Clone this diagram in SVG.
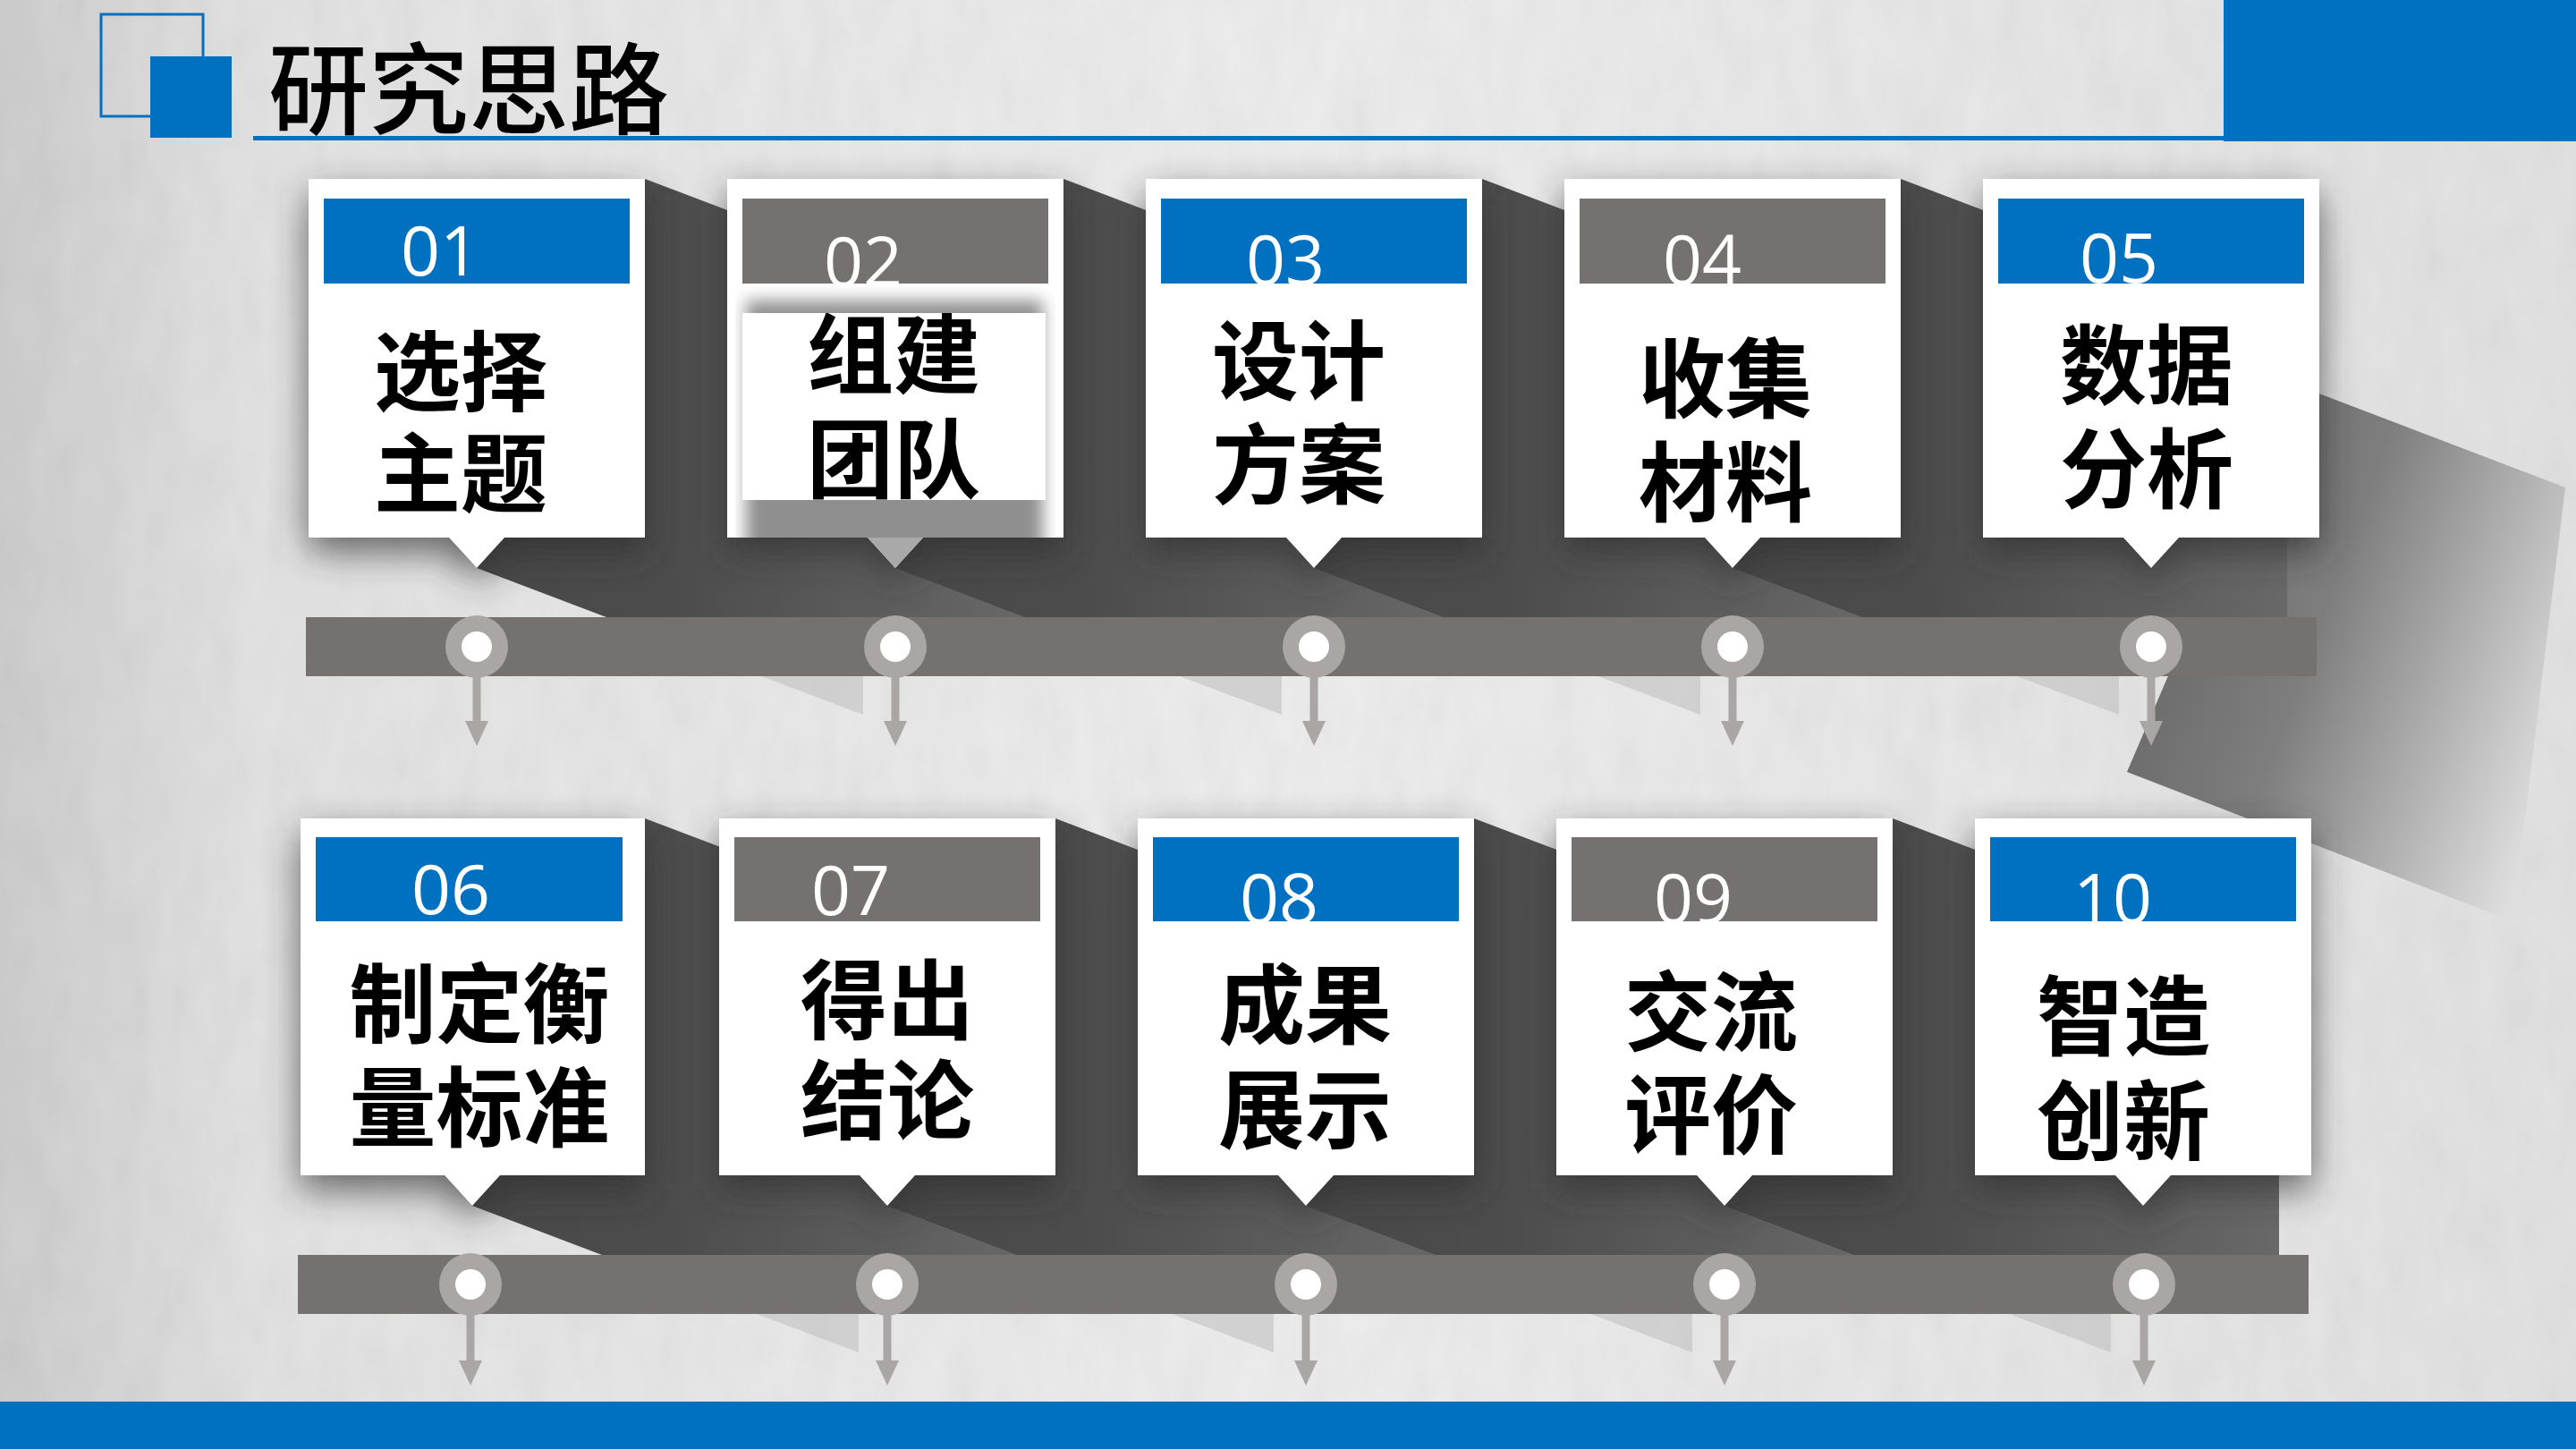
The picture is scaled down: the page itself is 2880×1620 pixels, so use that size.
<svg xmlns="http://www.w3.org/2000/svg" width="2880" height="1620" viewBox="0 0 2880 1620">
<style>
.card{fill:#ffffff}
.hb{fill:#0070C0}
.hg{fill:#767171}
.num{font-family:'Open Sans','Liberation Sans',sans-serif;font-size:77px;fill:#ffffff;text-anchor:middle}
.lbl{font-family:'Noto Sans CJK SC',sans-serif;font-weight:700;font-size:97px;fill:#000000;text-anchor:middle}
.bar{fill:#757171}
.ring{fill:#aaa6a6}
.hole{fill:#ffffff}
.arr{stroke:#aaa6a6;stroke-width:9;fill:none}
.ls{fill:url(#lsg)}
.lsb{fill:#bdbdbd;opacity:0.55}
.soft{fill:#2e2e2e;opacity:0.7;filter:url(#blur)}
</style>
<defs>
<linearGradient id="bg" x1="0" y1="0" x2="1" y2="0">
<stop offset="0" stop-color="#cbcbcb"/>
<stop offset="0.1" stop-color="#e2e2e2"/>
<stop offset="0.5" stop-color="#ededed"/>
<stop offset="1" stop-color="#e1e1e1"/>
</linearGradient>
<linearGradient id="lsg" x1="0" y1="0" x2="1" y2="0">
<stop offset="0" stop-color="#444444"/>
<stop offset="0.5" stop-color="#4c4c4c"/>
<stop offset="1" stop-color="#686868"/>
</linearGradient>
<linearGradient id="tilt" gradientUnits="userSpaceOnUse" x1="2420" y1="700" x2="2860" y2="860">
<stop offset="0" stop-color="#6c6c6c"/>
<stop offset="0.35" stop-color="#7e7e7e"/>
<stop offset="1" stop-color="#dedede"/>
</linearGradient>
<filter id="blur" x="-20%" y="-20%" width="140%" height="150%">
<feGaussianBlur stdDeviation="20"/>
</filter>
<filter id="blur2" x="-10%" y="-10%" width="120%" height="120%">
<feGaussianBlur stdDeviation="9"/>
</filter>
<filter id="noise" x="0" y="0" width="100%" height="100%">
<feTurbulence type="fractalNoise" baseFrequency="0.03 0.012" numOctaves="3" seed="4"/>
<feColorMatrix type="saturate" values="0"/>
<feComponentTransfer><feFuncA type="linear" slope="0" intercept="0.08"/></feComponentTransfer>
</filter>
<clipPath id="above1"><rect x="0" y="0" width="2880" height="690"/></clipPath>
<clipPath id="above2"><rect x="0" y="800" width="2880" height="603"/></clipPath>
<clipPath id="c02"><rect x="830" y="350" width="339" height="209"/></clipPath>
<clipPath id="c02in"><rect x="822" y="318" width="358" height="283"/></clipPath>
<marker id="head" viewBox="0 0 28 26" refX="0" refY="13" markerWidth="28" markerHeight="26" markerUnits="userSpaceOnUse" orient="auto">
<path d="M0,0 L28,13 L0,26 Z" fill="#aaa6a6"/>
</marker>
</defs>

<g id="background">
<rect x="0" y="0" width="2880" height="1620" fill="url(#bg)"/>
<rect x="0" y="0" width="2880" height="1620" filter="url(#noise)"/>
</g>

<g id="header">
<rect x="113" y="16" width="114" height="114" fill="none" stroke="#0070C0" stroke-width="3"/>
<rect x="168" y="63" width="91" height="91" fill="#0070C0"/>
<rect x="283" y="152" width="2210" height="5" fill="#0070C0"/>
<rect x="2486" y="0" width="394" height="158" fill="#0070C0"/>
<text x="300" y="142" font-family="'Noto Sans CJK SC',sans-serif" font-size="112" font-weight="500" fill="#000000">研究思路</text>
</g>

<g id="footer">
<rect x="0" y="1567" width="2880" height="53" fill="#0070C0"/>
</g>

<g id="tilted-panel">
<polygon points="2564,429 2868,545 2809,1030 2378,863" fill="url(#tilt)"/>
</g>

<g id="shadows-row1">
<g clip-path="url(#above1)">
<polygon class="ls" points="721,200 1153,364 1153,765 996,765 965,799 533,635 502,601 345,601 345,200"/>
<polygon class="ls" points="1189,200 1621,364 1621,765 1464,765 1433,799 1001,635 970,601 813,601 813,200"/>
<polygon class="ls" points="1657,200 2089,364 2089,765 1932,765 1901,799 1469,635 1438,601 1281,601 1281,200"/>
<polygon class="ls" points="2125,200 2557,364 2557,765 2400,765 2369,799 1937,635 1906,601 1749,601 1749,200"/>
</g>
<polygon class="lsb" points="851,756 965,799 965,756"/>
<polygon class="lsb" points="1319,756 1433,799 1433,756"/>
<polygon class="lsb" points="1787,756 1901,799 1901,756"/>
<polygon class="lsb" points="2255,756 2369,799 2369,756"/>
</g>

<g id="node-01">
<path class="soft" d="M345,216 H721 V617 H564 L533,651 L502,617 H345 Z"/>
<path class="card" d="M345,200 H721 V601 H564 L533,635 L502,601 H345 Z"/>
<rect class="hb" x="362" y="222" width="342" height="95"/>
<text class="num" x="492" y="308">01</text>
<text class="lbl" x="515" y="451">选择</text>
<text class="lbl" x="515" y="565">主题</text>
</g>

<g id="node-02">
<path class="soft" d="M813,216 H1189 V617 H1032 L1001,651 L970,617 H813 Z"/>
<path class="card" d="M813,200 H1189 V601 H1032 L1001,635 L970,601 H813 Z"/>
<g clip-path="url(#c02in)">
<rect x="834" y="336" width="332" height="290" fill="#8f8f8f" filter="url(#blur2)"/>
</g>
<path d="M970,601 L1032,601 L1001,635 Z" fill="#a9a9a9"/>
<rect x="830" y="350" width="339" height="209" fill="#ffffff"/>
<rect class="hg" x="830" y="222" width="342" height="95"/>
<text class="num" x="965" y="320">02</text>
<g clip-path="url(#c02)">
<text class="lbl" x="999" y="432">组建</text>
<text class="lbl" x="999" y="549">团队</text>
</g>
</g>

<g id="node-03">
<path class="soft" d="M1281,216 H1657 V617 H1500 L1469,651 L1438,617 H1281 Z"/>
<path class="card" d="M1281,200 H1657 V601 H1500 L1469,635 L1438,601 H1281 Z"/>
<rect class="hb" x="1298" y="222" width="342" height="95"/>
<text class="num" x="1437" y="318">03</text>
<text class="lbl" x="1452" y="439">设计</text>
<text class="lbl" x="1452" y="555">方案</text>
</g>

<g id="node-04">
<path class="soft" d="M1749,216 H2125 V617 H1968 L1937,651 L1906,617 H1749 Z"/>
<path class="card" d="M1749,200 H2125 V601 H1968 L1937,635 L1906,601 H1749 Z"/>
<rect class="hg" x="1766" y="222" width="342" height="95"/>
<text class="num" x="1903" y="318">04</text>
<text class="lbl" x="1929" y="459">收集</text>
<text class="lbl" x="1929" y="575">材料</text>
</g>

<g id="node-05">
<path class="soft" d="M2217,216 H2593 V617 H2436 L2405,651 L2374,617 H2217 Z"/>
<path class="card" d="M2217,200 H2593 V601 H2436 L2405,635 L2374,601 H2217 Z"/>
<rect class="hb" x="2234" y="222" width="342" height="95"/>
<text class="num" x="2369" y="316">05</text>
<text class="lbl" x="2400" y="444">数据</text>
<text class="lbl" x="2400" y="560">分析</text>
</g>

<g id="timeline-1">
<rect class="bar" x="342" y="690" width="2248" height="66"/>
<circle class="ring" cx="533" cy="723" r="35"/><circle class="hole" cx="533" cy="723" r="17"/>
<circle class="ring" cx="1001" cy="723" r="35"/><circle class="hole" cx="1001" cy="723" r="17"/>
<circle class="ring" cx="1469" cy="723" r="35"/><circle class="hole" cx="1469" cy="723" r="17"/>
<circle class="ring" cx="1937" cy="723" r="35"/><circle class="hole" cx="1937" cy="723" r="17"/>
<circle class="ring" cx="2405" cy="723" r="35"/><circle class="hole" cx="2405" cy="723" r="17"/>
</g>

<g id="shadows-row2">
<g clip-path="url(#above2)">
<polygon class="ls" points="721,915 1153,1079 1153,1478 991,1478 960,1512 528,1348 497,1314 336,1314 336,915"/>
<polygon class="ls" points="1180,915 1612,1079 1612,1478 1455,1478 1424,1512 992,1348 961,1314 804,1314 804,915"/>
<polygon class="ls" points="1648,915 2080,1079 2080,1478 1923,1478 1892,1512 1460,1348 1429,1314 1272,1314 1272,915"/>
<polygon class="ls" points="2116,915 2548,1079 2548,1478 2391,1478 2360,1512 1928,1348 1897,1314 1740,1314 1740,915"/>
</g>
<polygon class="lsb" points="846,1469 960,1512 960,1469"/>
<polygon class="lsb" points="1310,1469 1424,1512 1424,1469"/>
<polygon class="lsb" points="1778,1469 1892,1512 1892,1469"/>
<polygon class="lsb" points="2246,1469 2360,1512 2360,1469"/>
</g>

<g id="node-06">
<path class="soft" d="M336,931 H721 V1330 H559 L528,1364 L497,1330 H336 Z"/>
<path class="card" d="M336,915 H721 V1314 H559 L528,1348 L497,1314 H336 Z"/>
<rect class="hb" x="353" y="936" width="343" height="94"/>
<text class="num" x="504" y="1022">06</text>
<text class="lbl" x="536" y="1158">制定衡</text>
<text class="lbl" x="536" y="1274">量标准</text>
</g>

<g id="node-07">
<path class="soft" d="M804,931 H1180 V1330 H1023 L992,1364 L961,1330 H804 Z"/>
<path class="card" d="M804,915 H1180 V1314 H1023 L992,1348 L961,1314 H804 Z"/>
<rect class="hg" x="821" y="936" width="342" height="94"/>
<text class="num" x="951" y="1023">07</text>
<text class="lbl" x="992" y="1154">得出</text>
<text class="lbl" x="992" y="1266">结论</text>
</g>

<g id="node-08">
<path class="soft" d="M1272,931 H1648 V1330 H1491 L1460,1364 L1429,1330 H1272 Z"/>
<path class="card" d="M1272,915 H1648 V1314 H1491 L1460,1348 L1429,1314 H1272 Z"/>
<rect class="hb" x="1289" y="936" width="342" height="94"/>
<text class="num" x="1430" y="1032">08</text>
<text class="lbl" x="1459" y="1159">成果</text>
<text class="lbl" x="1459" y="1276">展示</text>
</g>

<g id="node-09">
<path class="soft" d="M1740,931 H2116 V1330 H1959 L1928,1364 L1897,1330 H1740 Z"/>
<path class="card" d="M1740,915 H2116 V1314 H1959 L1928,1348 L1897,1314 H1740 Z"/>
<rect class="hg" x="1757" y="936" width="342" height="94"/>
<text class="num" x="1893" y="1032">09</text>
<text class="lbl" x="1913" y="1167">交流</text>
<text class="lbl" x="1913" y="1282">评价</text>
</g>

<g id="node-10">
<path class="soft" d="M2208,931 H2584 V1330 H2427 L2396,1364 L2365,1330 H2208 Z"/>
<path class="card" d="M2208,915 H2584 V1314 H2427 L2396,1348 L2365,1314 H2208 Z"/>
<rect class="hb" x="2225" y="936" width="342" height="94"/>
<text class="num" x="2362" y="1032">10</text>
<text class="lbl" x="2374" y="1172">智造</text>
<text class="lbl" x="2374" y="1289">创新</text>
</g>

<g id="timeline-2">
<rect class="bar" x="333" y="1403" width="2248" height="66"/>
<circle class="ring" cx="526" cy="1436" r="35"/><circle class="hole" cx="526" cy="1436" r="17"/>
<circle class="ring" cx="992" cy="1436" r="35"/><circle class="hole" cx="992" cy="1436" r="17"/>
<circle class="ring" cx="1460" cy="1436" r="35"/><circle class="hole" cx="1460" cy="1436" r="17"/>
<circle class="ring" cx="1928" cy="1436" r="35"/><circle class="hole" cx="1928" cy="1436" r="17"/>
<circle class="ring" cx="2397" cy="1436" r="35"/><circle class="hole" cx="2397" cy="1436" r="17"/>
</g>

<g id="connectors">
<line class="arr" x1="533" y1="757" x2="533" y2="806" marker-end="url(#head)"/>
<line class="arr" x1="1001" y1="757" x2="1001" y2="806" marker-end="url(#head)"/>
<line class="arr" x1="1469" y1="757" x2="1469" y2="806" marker-end="url(#head)"/>
<line class="arr" x1="1937" y1="757" x2="1937" y2="806" marker-end="url(#head)"/>
<line class="arr" x1="2405" y1="757" x2="2405" y2="806" marker-end="url(#head)"/>
<line class="arr" x1="526" y1="1470" x2="526" y2="1521" marker-end="url(#head)"/>
<line class="arr" x1="992" y1="1470" x2="992" y2="1521" marker-end="url(#head)"/>
<line class="arr" x1="1460" y1="1470" x2="1460" y2="1521" marker-end="url(#head)"/>
<line class="arr" x1="1928" y1="1470" x2="1928" y2="1521" marker-end="url(#head)"/>
<line class="arr" x1="2397" y1="1470" x2="2397" y2="1521" marker-end="url(#head)"/>
</g>
</svg>
